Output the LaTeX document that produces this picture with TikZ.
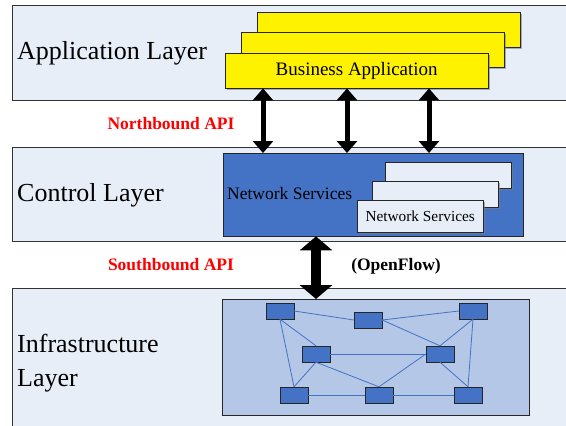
\documentclass[tikz,border=0pt]{standalone}
\usepackage{fontspec}
\setmainfont{Liberation Serif}
\usetikzlibrary{arrows.meta}
\usetikzlibrary{positioning}
\usetikzlibrary{shadows}
\definecolor{layerbg}{RGB}{232,238,247}
\definecolor{nsblue}{RGB}{68,114,196}
\definecolor{infrabg}{RGB}{180,199,231}

\begin{document}
\begin{tikzpicture}[x=1pt,y=-1pt,
    layer/.style={draw=black!80, fill=layerbg, anchor=north west, inner sep=0pt,
      minimum width=600pt, minimum height=#1},
    layertext/.style={anchor=west, inner sep=0pt, align=left,
      font=\fontsize{26}{34}\selectfont},
    apibox/.style={draw=black!85, fill=yellow, anchor=north west, inner sep=0pt,
      minimum width=263pt, minimum height=35pt,
      drop shadow={shadow xshift=2pt, shadow yshift=-2pt, opacity=.6}},
    svcbox/.style={draw=black!85, fill=layerbg, anchor=north west, inner sep=0pt,
      minimum width=126pt, minimum height=#1,
      drop shadow={shadow xshift=2pt, shadow yshift=-2pt, opacity=.6}},
    switch/.style={draw=black!85, fill=nsblue, inner sep=0pt,
      minimum width=28pt, minimum height=16pt,
      drop shadow={shadow xshift=1pt, shadow yshift=-1pt, opacity=.4}},
    link/.style={nsblue, line width=0.8pt},
    apitext/.style={font=\fontsize{17.5}{20}\selectfont\bfseries},
    northarrow/.style={line width=5pt,
      {Triangle[width=20pt,length=12pt]}-{Triangle[width=20pt,length=12pt]}},
    southarrow/.style={line width=10pt,
      {Triangle[width=32pt,length=14pt]}-{Triangle[width=32pt,length=14pt]}}]

    \useasboundingbox (0,0) rectangle (566,426);
    \clip (0,0) rectangle (566,426);

    % layers
    \node[layer=95pt] (app) at (12,5) {};
    \node[layer=94pt] (ctl) at (12,147) {};
    \node[layer=160pt] (inf) at (12,288) {};
    \node[layertext] (applbl) at (17,53) {Application Layer};
    \node[layertext] (ctllbl) at (17,195) {Control Layer};
    \node[layertext] (inflbl) at (17,363) {Infrastructure\\Layer};

    % business applications
    \node[apibox] (ba3) at (257,12) {};
    \node[apibox] (ba2) at (241,32) {};
    \node[apibox, font=\fontsize{19}{22}\selectfont] (ba) at (225,53) {Business Application};

    % network services
    \node[draw=black!85, fill=nsblue, anchor=north west, inner sep=0pt,
      minimum width=300pt, minimum height=83pt] (ns) at (223,153) {};
    \node[anchor=west, inner sep=0pt, font=\fontsize{17.5}{20}\selectfont]
      (nslbl) at (227,194) {Network Services};
    \node[svcbox=26pt] (svc3) at (385,162) {};
    \node[svcbox=26pt] (svc2) at (372,181) {};
    \node[svcbox=32pt, font=\fontsize{15.3}{18}\selectfont] (svc) at (357,200) {Network Services};

    % switches
    \node[draw=black!85, fill=infrabg, anchor=north west, inner sep=0pt,
      minimum width=307pt, minimum height=116pt] (sw) at (222,299) {};
    \foreach \n/\x/\y in {1/280/311, 2/368/320, 3/473/311, 4/316/354,
                          5/440/354, 6/294/395, 7/379/395, 8/468/395}
      \node[switch] (s\n) at (\x,\y) {};
    \foreach \a/\b in {s1.east/s2.west, s2.east/s3.west, s1.south/s4.north,
                       s1.south/s6.north, s2.east/s5.north, s3.south/s5.north,
                       s3.south/s8.north, s4.east/s5.west, s4.south/s6.north,
                       s4.south/s7.north, s5.west/s7.north, s5.south/s8.north,
                       s6.east/s7.west, s7.east/s8.west}
      \draw[link] (\a) -- (\b);

    % APIs
    \foreach \x in {263,347,429}
      \draw[northarrow] (ba.south -| \x,0) -- (ns.north -| \x,0);
    \draw[southarrow] (ns.south -| 316,0) -- (sw.north -| 316,0);
    \node[apitext, red] (nb) at (171,124) {Northbound API};
    \node[apitext, red] (sb) at (171,265) {Southbound API};
    \node[apitext] (of) at (396,266) {(OpenFlow)};
  \end{tikzpicture}
\end{document}
